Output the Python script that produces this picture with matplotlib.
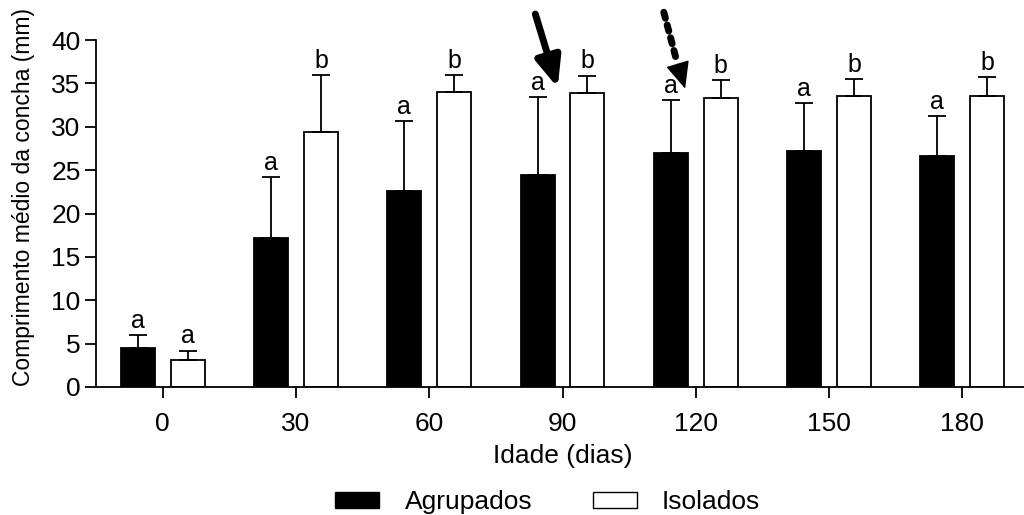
import numpy as np
import matplotlib.pyplot as plt
from matplotlib.patches import Patch

plt.rcParams['font.family'] = ['Liberation Sans', 'DejaVu Sans']

idade = ['0', '30', '60', '90', '120', '150', '180']
agrupados = [4.5, 17.2, 22.6, 24.4, 27.0, 27.2, 26.6]
agrupados_dp = [1.5, 7.0, 8.1, 9.0, 6.1, 5.5, 4.6]
isolados = [3.1, 29.4, 34.0, 33.9, 33.3, 33.6, 33.5]
isolados_dp = [1.1, 6.6, 2.0, 2.0, 2.1, 1.9, 2.2]
letras_agr = ['a', 'a', 'a', 'a', 'a', 'a', 'a']
letras_iso = ['a', 'b', 'b', 'b', 'b', 'b', 'b']

x = np.arange(len(idade))
w = 0.255
off = 0.1875

fig = plt.figure(figsize=(10.24, 5.15), dpi=100)
ax = fig.add_axes([96/1024, 128/515, 933/1024, 347/515])

ax.bar(x - off, agrupados, w, color='black', edgecolor='black', linewidth=1.3,
       yerr=[np.zeros(len(x)), agrupados_dp], capsize=6.5,
       error_kw=dict(ecolor='black', elinewidth=1.3, capthick=1.3))
ax.bar(x + off, isolados, w, color='white', edgecolor='black', linewidth=1.3,
       yerr=[np.zeros(len(x)), isolados_dp], capsize=6.5,
       error_kw=dict(ecolor='black', elinewidth=1.3, capthick=1.3))

for i in range(len(x)):
    ax.text(x[i] - off, agrupados[i] + agrupados_dp[i] + 0.25, letras_agr[i],
            ha='center', va='bottom', fontsize=18)
    ax.text(x[i] + off, isolados[i] + isolados_dp[i] + 0.25, letras_iso[i],
            ha='center', va='bottom', fontsize=18)

# solid arrow over 90 days
ax.annotate('', xy=(2.97, 34.2), xytext=(2.79, 43.3), annotation_clip=False,
            arrowprops=dict(arrowstyle='-|>,head_length=0.9,head_width=0.38',
                            mutation_scale=20, color='black', lw=5))
# dotted arrow over 120 days: dotted shaft + solid head
ax.annotate('', xy=(3.86, 37.4), xytext=(3.76, 43.2), annotation_clip=False,
            arrowprops=dict(arrowstyle='-', color='black', lw=5,
                            linestyle=(0, (0.9, 1.0)), shrinkA=0, shrinkB=0))
ax.annotate('', xy=(3.92, 34.4), xytext=(3.865, 37.2), annotation_clip=False,
            arrowprops=dict(arrowstyle='-|>,head_length=0.85,head_width=0.38',
                            mutation_scale=20, color='black', lw=1,
                            shrinkA=0, shrinkB=0))

ax.set_xlim(-0.5, 6.5)
ax.set_ylim(0, 40)
ax.set_yticks(range(0, 41, 5))
ax.set_xticks(x)
ax.set_xticklabels(idade)
ax.spines['top'].set_visible(False)
ax.spines['right'].set_visible(False)
ax.spines['left'].set_linewidth(1.3)
ax.spines['bottom'].set_linewidth(1.3)
ax.tick_params(axis='both', length=8, width=1.3, labelsize=19)
ax.tick_params(axis='x', pad=10)
ax.tick_params(axis='y', pad=3)
ax.set_xlabel('Idade (dias)', fontsize=19, labelpad=6)
ax.set_ylabel('Comprimento médio da concha (mm)', fontsize=16.5)
ax.yaxis.set_label_coords(-0.065, 0.548)

handles = [Patch(facecolor='black', edgecolor='black'),
           Patch(facecolor='white', edgecolor='black')]
fig.legend(handles, ['Agrupados', 'Isolados'], loc='lower center',
           bbox_to_anchor=(0.535, -0.045), ncol=2, frameon=False, fontsize=19,
           handlelength=1.67, handleheight=0.55, columnspacing=2.3, handletextpad=0.95)

plt.savefig('out.png', dpi=100)
